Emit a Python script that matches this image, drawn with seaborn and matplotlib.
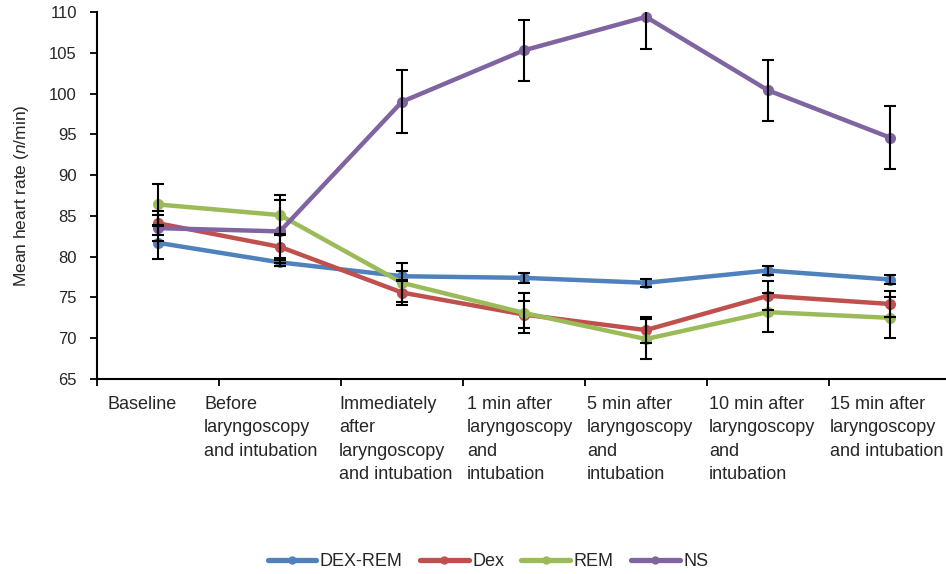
import numpy as np
import pandas as pd
import matplotlib
matplotlib.use('Agg')
import matplotlib.pyplot as plt
import matplotlib.transforms as mtransforms
import seaborn as sns

# time points along the x axis
stages = ['Baseline',
          'Before\nlaryngoscopy\nand intubation',
          'Immediately\nafter\nlaryngoscopy\nand intubation',
          '1 min after\nlaryngoscopy\nand\nintubation',
          '5 min after\nlaryngoscopy\nand\nintubation',
          '10 min after\nlaryngoscopy\nand\nintubation',
          '15 min after\nlaryngoscopy\nand intubation']

groups = ['DEX-REM', 'Dex', 'REM', 'NS']

dexrem_mean = [81.7, 79.3, 77.6, 77.4, 76.8, 78.3, 77.2]
dexrem_err = [2.0, 0.5, 0.6, 0.6, 0.5, 0.5, 0.5]
dex_mean = [84.1, 81.2, 75.6, 72.9, 71.0, 75.2, 74.2]
dex_err = [1.5, 1.6, 1.5, 1.7, 1.6, 1.8, 1.6]
rem_mean = [86.4, 85.1, 76.8, 73.1, 69.9, 73.2, 72.5]
rem_err = [2.5, 2.5, 2.4, 2.4, 2.4, 2.4, 2.5]
ns_mean = [83.5, 83.1, 99.0, 105.3, 109.4, 100.4, 94.6]
ns_err = [1.6, 3.9, 3.85, 3.75, 3.9, 3.75, 3.85]

colors = ['#4F81BD', '#C0504D', '#9BBB59', '#8064A2']

means = [dexrem_mean, dex_mean, rem_mean, ns_mean]
errs = [dexrem_err, dex_err, rem_err, ns_err]

rows = []
for g, m, e in zip(groups, means, errs):
    for i, (mv, ev) in enumerate(zip(m, e)):
        rows.append({'group': g, 'stage': i, 'hr': mv, 'err': ev})
df = pd.DataFrame(rows)

sns.set_style('white')
plt.rcParams['font.family'] = ['Liberation Sans', 'DejaVu Sans']
plt.rcParams['mathtext.fontset'] = 'custom'
plt.rcParams['mathtext.it'] = 'Liberation Sans:italic'
plt.rcParams['mathtext.rm'] = 'Liberation Sans'

fig = plt.figure(figsize=(9.46, 5.74), dpi=100)
ax = fig.add_axes([97 / 946, 1 - 379 / 574, 854 / 946, 367 / 574])

sns.lineplot(data=df, x='stage', y='hr', hue='group', hue_order=groups,
             palette=colors, marker='o', markersize=8, markeredgewidth=0,
             linewidth=3.2, ax=ax, legend=True, zorder=2)

for g in groups:
    sub = df[df.group == g]
    ax.errorbar(sub.stage, sub.hr, yerr=sub.err, fmt='none', ecolor='black',
                elinewidth=1.5, capsize=4, capthick=1.5, zorder=3)

ax.set_xlim(-0.5, 6.5)
ax.set_ylim(65, 110)
ax.set_yticks(np.arange(65, 111, 5))
ax.set_xticks(np.arange(-0.5, 7, 1))
ax.set_xticklabels([])
ax.set_xticks(np.arange(0, 7), minor=True)
ax.set_xticklabels(stages, minor=True, fontsize=13, ha='left',
                   multialignment='left', linespacing=1.5)
ax.tick_params(axis='x', which='minor', length=0, pad=12)
ax.tick_params(axis='x', which='major', length=5, width=1.3, direction='out',
               bottom=True, color='black')
ax.tick_params(axis='y', length=5, width=1.3, direction='out', left=True,
               labelsize=12, color='black', pad=9.5)

# excel-like wrapped labels sit left of each category centre
shift_px = [-51, -76, -63, -57, -59, -59, -60]
for lab, s in zip(ax.get_xticklabels(minor=True), shift_px):
    off = mtransforms.ScaledTranslation(s / 100, 0, fig.dpi_scale_trans)
    lab.set_transform(lab.get_transform() + off)

for side in ['top', 'right']:
    ax.spines[side].set_visible(False)
for side in ['left', 'bottom']:
    ax.spines[side].set_color('black')
    ax.spines[side].set_linewidth(1.5)

ax.set_xlabel('')
ax.set_ylabel(r'Mean heart rate ($\mathit{n}$/min)', fontsize=12.5, labelpad=13)

handles, labels = ax.get_legend_handles_labels()
ax.get_legend().remove()
for h in handles:
    h.set_linewidth(3.8)
    h.set_markersize(6)
fig.legend(handles, labels, loc='center', bbox_to_anchor=(488 / 946, 12 / 574),
           ncol=4, frameon=False, fontsize=13, handlelength=2.7,
           handletextpad=0.2, columnspacing=0.95)

fig.savefig('out.png', dpi=100)
